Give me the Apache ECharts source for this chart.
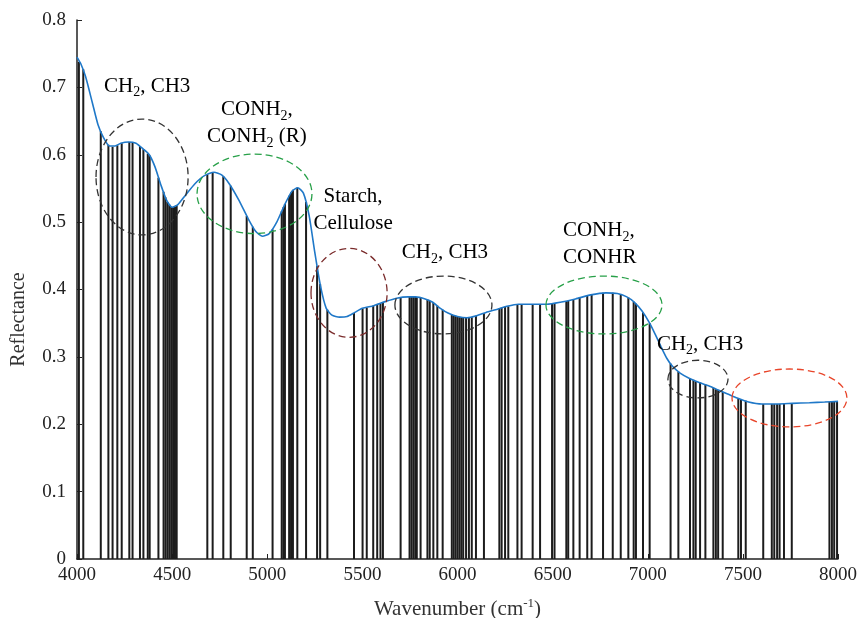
<!DOCTYPE html>
<html>
<head>
<meta charset="utf-8">
<script src="https://cdn.jsdelivr.net/npm/echarts@6/dist/echarts.min.js"></script>
<style>
html,body{margin:0;padding:0;background:#fff;}
#chart{width:860px;height:618px;}
</style>
</head>
<body>
<div id="chart"></div>
<script>
// Spectrum (wavenumber, reflectance)
const specX = [4000,4020,4045,4080,4110,4140,4170,4200,4230,4270,4310,4350,4380,4410,4440,4470,4500,4530,4570,4620,4670,4720,4760,4800,4850,4900,4940,4975,5010,5050,5090,5130,5160,5190,5220,5250,5280,5310,5340,5380,5420,5460,5500,5560,5620,5680,5740,5780,5830,5870,5910,5950,6000,6050,6100,6150,6200,6260,6320,6400,6470,6540,6620,6700,6780,6840,6890,6930,6970,7010,7040,7070,7100,7130,7170,7220,7270,7320,7370,7420,7470,7530,7600,7680,7760,7850,7930,8000];
const specY = [0.745,0.735,0.716,0.678,0.645,0.625,0.613,0.613,0.617,0.619,0.617,0.608,0.600,0.582,0.556,0.533,0.522,0.526,0.540,0.557,0.569,0.574,0.570,0.557,0.533,0.505,0.486,0.479,0.483,0.500,0.525,0.546,0.551,0.543,0.510,0.455,0.405,0.372,0.362,0.359,0.360,0.366,0.372,0.376,0.382,0.387,0.389,0.389,0.386,0.381,0.372,0.365,0.360,0.358,0.361,0.366,0.370,0.375,0.378,0.378,0.378,0.381,0.386,0.392,0.395,0.394,0.389,0.381,0.368,0.350,0.333,0.315,0.298,0.286,0.276,0.268,0.262,0.257,0.251,0.245,0.239,0.233,0.230,0.230,0.231,0.232,0.233,0.234];

// Selected variables (vertical lines)
const barX = [4010,4033,4125,4165,4187,4212,4235,4275,4292,4331,4349,4372,4382,4428,4455,4465,4475,4485,4495,4505,4515,4524,4685,4713,4769,4808,4892,4924,5028,5076,5085,5093,5115,5125,5135,5158,5204,5262,5278,5316,5456,5501,5523,5557,5578,5595,5608,5701,5748,5758,5768,5778,5786,5806,5842,5854,5873,5894,5922,5970,5980,5990,6000,6010,6020,6030,6045,6060,6075,6097,6139,6220,6232,6250,6267,6315,6337,6395,6434,6497,6510,6572,6582,6609,6642,6682,6705,6765,6816,6858,6898,6926,6938,6975,7010,7120,7161,7222,7240,7252,7275,7303,7345,7358,7370,7394,7476,7490,7515,7607,7652,7665,7680,7693,7716,7757,7955,7968,7980,7995];
const barY = [0.738,0.727,0.635,0.615,0.612,0.614,0.617,0.619,0.618,0.613,0.608,0.602,0.599,0.566,0.545,0.537,0.530,0.526,0.523,0.522,0.523,0.525,0.571,0.574,0.568,0.554,0.509,0.493,0.489,0.516,0.522,0.527,0.539,0.544,0.548,0.551,0.530,0.435,0.408,0.370,0.365,0.372,0.373,0.376,0.378,0.379,0.381,0.388,0.389,0.389,0.389,0.389,0.389,0.388,0.385,0.383,0.380,0.376,0.370,0.363,0.362,0.361,0.360,0.359,0.359,0.358,0.358,0.358,0.359,0.361,0.365,0.372,0.373,0.374,0.375,0.378,0.378,0.378,0.378,0.379,0.380,0.383,0.383,0.385,0.388,0.391,0.392,0.395,0.395,0.393,0.388,0.382,0.379,0.366,0.350,0.290,0.278,0.268,0.266,0.264,0.262,0.259,0.254,0.252,0.251,0.248,0.238,0.237,0.235,0.230,0.230,0.230,0.230,0.230,0.230,0.231,0.233,0.233,0.234,0.234];

// Annotation ellipses: centre x, centre y, radius x, radius y, colour
const ellCX = [4342,4933,5430,5926,6770,7264,7745];
const ellCY = [0.567,0.542,0.395,0.377,0.377,0.267,0.239];
const ellRX = [242,302,200,255,305,158,302];
const ellRY = [0.086,0.059,0.066,0.043,0.043,0.028,0.043];
const ellColor = ['#333333','#27a048','#7a2b2b','#333333','#27a048','#333333','#e8452a'];

// Annotation labels
const labX = [4142,4946,5451,5934,6554,7275];
const labY = [0.702,0.647,0.518,0.455,0.467,0.319];
const labText = [
  '{t|CH}{s|2}{t|, CH3}',
  '{t|CONH}{s|2}{t|,}\n{t|CONH}{s|2}{t| (R)}',
  '{t|Starch,}\n{t|Cellulose}',
  '{t|CH}{s|2}{t|, CH3}',
  '{t|CONH}{s|2}{t|,}\n{t|CONHR}',
  '{t|CH}{s|2}{t|, CH3}'
];
const labAlign = ['left','center','center','center','left','center'];

const xTicks = [4000,4500,5000,5500,6000,6500,7000,7500,8000];
const yTicks = [0,0.1,0.2,0.3,0.4,0.5,0.6,0.7,0.8];

const FONT = '"Liberation Serif", "DejaVu Serif", serif';
const chart = echarts.init(document.getElementById('chart'));

const rich = {
  t: {fontFamily: FONT, fontSize: 21, color: '#333', lineHeight: 27},
  s: {fontFamily: FONT, fontSize: 14, color: '#333', lineHeight: 14, verticalAlign: 'bottom'}
};

chart.setOption({
  animation: false,
  backgroundColor: '#fff',
  grid: {left: 77, right: 22, top: 20, bottom: 59, containLabel: false, outerBoundsMode: 'none'},
  xAxis: {
    type: 'value', min: 4000, max: 8000, interval: 500,
    axisLine: {show: true, lineStyle: {color: '#222', width: 1.5}},
    axisTick: {show: true, inside: true, length: 5, lineStyle: {color: '#222'}},
    splitLine: {show: false},
    axisLabel: {fontFamily: FONT, fontSize: 19, color: '#222', margin: 7,
      formatter: v => String(v)},
    name: '{a|Wavenumber (cm}{p|-1}{a|)}',
    nameLocation: 'middle', nameGap: 38,
    nameTextStyle: {
      rich: {
        a: {fontFamily: FONT, fontSize: 21, color: '#333', lineHeight: 24},
        p: {fontFamily: FONT, fontSize: 13, color: '#333', lineHeight: 13, verticalAlign: 'top'}
      }
    }
  },
  yAxis: {
    type: 'value', min: 0, max: 0.8, interval: 0.1,
    axisLine: {show: true, lineStyle: {color: '#222', width: 1.5}},
    axisTick: {show: true, inside: true, length: 5, lineStyle: {color: '#222'}},
    splitLine: {show: false},
    axisLabel: {fontFamily: FONT, fontSize: 19, color: '#222', margin: 11,
      formatter: v => v === 0 ? '0' : v.toFixed(1)},
    name: 'Reflectance', nameLocation: 'middle', nameGap: 48,
    nameTextStyle: {fontFamily: FONT, fontSize: 20, color: '#333', padding: [0, 60, 0, 0]}
  },
  series: [
    {
      type: 'custom', name: 'selected', z: 2, clip: false,
      data: barX.map((x, i) => [x, barY[i]]),
      encode: {x: 0, y: 1},
      renderItem: (params, api) => {
        const x = api.value(0), y = api.value(1);
        const p0 = api.coord([x, 0]), p1 = api.coord([x, y]);
        return {type: 'line', shape: {x1: p0[0], y1: p0[1], x2: p1[0], y2: p1[1]},
          style: {stroke: '#1c1c1c', lineWidth: 2}};
      }
    },
    {
      type: 'line', name: 'spectrum', z: 3,
      data: specX.map((x, i) => [x, specY[i]]),
      showSymbol: false, smooth: 0.2,
      lineStyle: {color: '#1f78c8', width: 1.6}
    },
    {
      type: 'custom', name: 'ellipses', z: 4, clip: false,
      data: ellCX.map((x, i) => [x, ellCY[i], ellRX[i], ellRY[i], i]),
      encode: {x: 0, y: 1},
      renderItem: (params, api) => {
        const c = api.coord([api.value(0), api.value(1)]);
        const s = api.size([api.value(2), api.value(3)]);
        return {type: 'ellipse', shape: {cx: c[0], cy: c[1], rx: s[0], ry: s[1]},
          style: {fill: 'none', stroke: ellColor[api.value(4)], lineWidth: 1.3, lineDash: [7, 4]}};
      }
    },
    {
      type: 'custom', name: 'labels', z: 5, clip: false,
      data: labX.map((x, i) => [x, labY[i], i]),
      encode: {x: 0, y: 1},
      renderItem: (params, api) => {
        const i = api.value(2);
        const c = api.coord([api.value(0), api.value(1)]);
        return {type: 'text', x: c[0], y: c[1],
          style: {text: labText[i], rich: rich, align: labAlign[i], verticalAlign: 'middle',
            textAlign: labAlign[i], textVerticalAlign: 'middle'}};
      }
    }
  ]
});
</script>
</body>
</html>
